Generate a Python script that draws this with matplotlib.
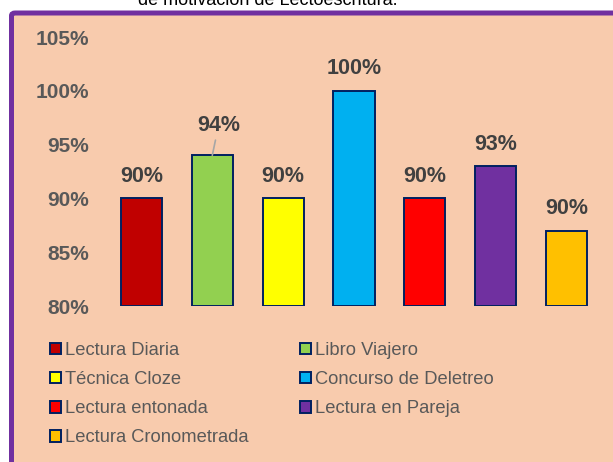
import matplotlib
matplotlib.use("Agg")
import matplotlib.pyplot as plt
from matplotlib.patches import Rectangle, FancyBboxPatch

categories = ["Lectura Diaria", "Libro Viajero", "Técnica Cloze", "Concurso de Deletreo",
              "Lectura entonada", "Lectura en Pareja", "Lectura Cronometrada"]
values = [90, 94, 90, 100, 90, 93, 87]
value_labels = ["90%", "94%", "90%", "100%", "90%", "93%", "90%"]
colors = ["#C00000", "#92D050", "#FFFF00", "#00B0F0", "#FF0000", "#7030A0", "#FFC000"]
yticks = [80, 85, 90, 95, 100, 105]
title_text = "de motivación de Lectoescritura."

plt.rcParams['font.family'] = ['Liberation Sans', 'DejaVu Sans']

W, H = 613, 462
fig = plt.figure(figsize=(W / 100, H / 100), dpi=100, facecolor="white")

# panel with purple border
panel = FancyBboxPatch((11.5 / W, -20 / H), (W + 20) / W, (H - 13 + 20) / H,
                       boxstyle="round,pad=0,rounding_size=0.006",
                       transform=fig.transFigure, facecolor="#F8CBAD",
                       edgecolor="#7030A0", linewidth=3.6, zorder=-5)
fig.patches.append(panel)

fig.text(268 / W, (H - 5) / H, title_text, ha="center", va="baseline",
         fontsize=13, color="black")

ax = fig.add_axes([106 / W, (H - 306) / H, 496 / W, 269 / H])
ax.set_zorder(2)
ax.set_facecolor("none")
x = list(range(len(categories)))
bars = ax.bar(x, [v - 80 for v in values], bottom=80, width=0.58, color=colors,
              edgecolor="#002060", linewidth=1.4)
ax.set_xlim(-0.5, len(categories) - 0.5)
ax.set_ylim(80, 105)
ax.set_yticks(yticks)
ax.set_yticklabels([f"{t}%" for t in yticks], fontsize=15, fontweight="bold", color="#595959")
ax.set_xticks([])
ax.tick_params(axis="y", length=0, pad=12)
for s in ax.spines.values():
    s.set_visible(False)

for i, (v, lab) in enumerate(zip(values, value_labels)):
    if i == 1:
        ax.annotate(lab, xy=(i, v), xytext=(4.5, 21.5), textcoords="offset points",
                    ha="center", va="center", fontsize=15.5, fontweight="bold", color="#404040",
                    arrowprops=dict(arrowstyle="-", color="#A6A6A6", lw=1.2,
                                    shrinkA=1, shrinkB=0))
    else:
        ax.annotate(lab, xy=(i, v), xytext=(0, 15.8), textcoords="offset points",
                    ha="center", va="center", fontsize=15.5, fontweight="bold", color="#404040")

handles = [Rectangle((0, 0), 1, 1, facecolor=c, edgecolor="#002060", linewidth=1.4)
           for c in colors]
order = [0, 2, 4, 6, 1, 3, 5]
leg = fig.legend([handles[i] for i in order], [categories[i] for i in order],
                 ncol=2, loc="upper left", bbox_to_anchor=(50 / W, (H - 342) / H),
                 frameon=False, fontsize=13.2, handlelength=0.6, handleheight=0.6,
                 handletextpad=0.2, columnspacing=2.82, labelspacing=0.66, borderpad=0,
                 borderaxespad=0)
leg.set_zorder(3)
for t in leg.get_texts():
    t.set_color("#595959")

fig.savefig("out.png", dpi=100, facecolor="white")
